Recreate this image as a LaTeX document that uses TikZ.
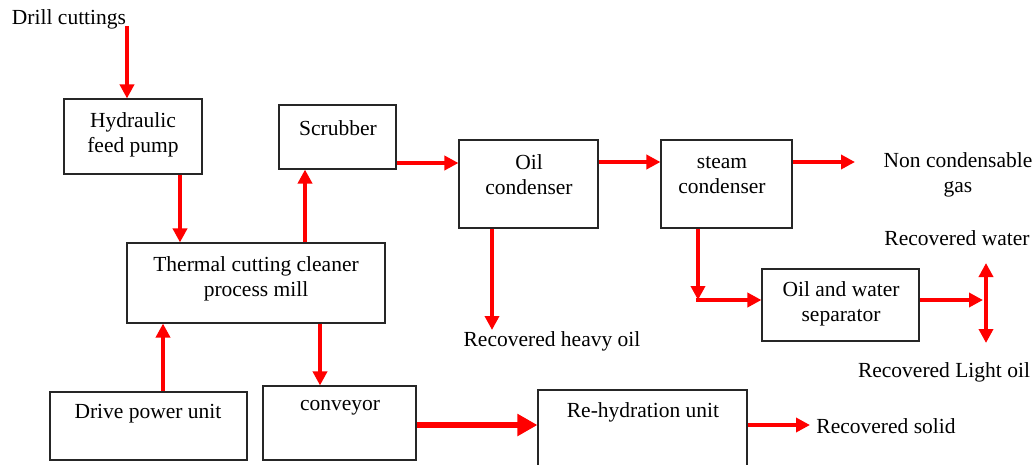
\documentclass[tikz,border=0pt]{standalone}
\usepackage{fontspec}
\setmainfont{Liberation Serif}
\usetikzlibrary{arrows.meta}
\begin{document}
\begin{tikzpicture}[x=1pt,y=-1pt,
  unit/.style={draw=black!85, line width=1.1pt, inner sep=0pt, fill=white},
  lbl/.style={font=\fontsize{21.5}{25}\selectfont, align=center, inner sep=0pt},
  flow/.style={draw=red, line width=4.2pt, -{Triangle[length=14pt,width=14pt]}},
  bothflow/.style={draw=red, line width=4.2pt, {Triangle[length=14pt,width=14pt]}-{Triangle[length=14pt,width=14pt]}},
  bigflow/.style={draw=red, line width=6.5pt, -{Triangle[length=20pt,width=21pt]}},
]
\useasboundingbox (0,0) rectangle (1035,464);
\clip (0,0) rectangle (1035,464);

% process units
\node[unit, minimum width=138pt, minimum height=75pt] (pump)  at (133,136.5) {};
\node[unit, minimum width=117pt, minimum height=64pt] (scrub) at (337.5,137) {};
\node[unit, minimum width=139pt, minimum height=88pt] (oilc)  at (528.5,184) {};
\node[unit, minimum width=131pt, minimum height=88pt] (steam) at (726.5,184) {};
\node[unit, minimum width=258pt, minimum height=80pt] (mill)  at (256,283) {};
\node[unit, minimum width=157pt, minimum height=72pt] (sep)   at (840.5,305) {};
\node[unit, minimum width=197pt, minimum height=68pt] (drive) at (148.5,426) {};
\node[unit, minimum width=153pt, minimum height=74pt] (conv)  at (339.5,423) {};
\node[unit, minimum width=209pt, minimum height=85pt] (rehyd) at (642.5,432.5) {};

% unit labels
\node[lbl] (tpump)  at (133,135)   {Hydraulic\\feed pump};
\node[lbl] (tscrub) at (338,128)   {Scrubber};
\node[lbl] (toilc)  at (529,175)   {Oil\\condenser};
\node[lbl] (tsteam) at (722,175)   {steam\\condenser};
\node[lbl] (tmill)  at (256,279)   {Thermal cutting cleaner\\process mill};
\node[lbl] (tsep)   at (841,304)   {Oil and water\\separator};
\node[lbl] (tdrive) at (148,414)   {Drive power unit};
\node[lbl] (tconv)  at (340,408)   {conveyor};
\node[lbl] (trehyd) at (643,412)   {Re-hydration unit};

% streams in and out
\node[lbl] (dc)   at (69,19)    {Drill cuttings};
\node[lbl] (ncg)  at (958,175)  {Non condensable\\gas};
\node[lbl] (rho)  at (552,341)  {Recovered heavy oil};
\node[lbl] (rw)   at (957,238)  {Recovered water};
\node[lbl] (rlo)  at (944,372)  {Recovered Light oil};
\node[lbl] (rs)   at (886,426)  {Recovered solid};

% connector positions
\coordinate (xdc)   at (127,0);
\coordinate (xpump) at (180,0);
\coordinate (xdrv)  at (163,0);
\coordinate (xscr)  at (305,0);
\coordinate (xconv) at (320,0);
\coordinate (xho)   at (492,0);
\coordinate (xst)   at (698,0);
\coordinate (ysc)   at (0,163);
\coordinate (ycd)   at (0,162);
\coordinate (ysol)  at (0,425);
\coordinate (ysep)  at (0,300);
\coordinate (ncgend) at (855,162);
\coordinate (hoend)  at (492,330);
\coordinate (rsend)  at (810,425);
\coordinate (bend)   at (698,300);
\coordinate (split)  at (983,300);
\coordinate (wtop)   at (986,263);
\coordinate (lbot)   at (986,343);

% material flows
\draw[flow] ([yshift=3pt]dc.south -| xdc) -- (pump.north -| xdc);
\draw[flow] (pump.south -| xpump) -- (mill.north -| xpump);
\draw[flow] (mill.north -| xscr) -- (scrub.south -| xscr);
\draw[flow] (scrub.east |- ysc) -- (oilc.west |- ysc);
\draw[flow] (oilc.east |- ycd) -- (steam.west |- ycd);
\draw[flow] (steam.east |- ycd) -- (ncgend);
\draw[flow] (oilc.south -| xho) -- (hoend);
\draw[flow] (steam.south -| xst) -- (bend);
\draw[flow] ([xshift=-2pt]bend) -- (sep.west |- ysep);
\draw[flow] (sep.east |- ysep) -- (split);
\draw[bothflow] (wtop) -- (lbot);
\draw[flow] (drive.north -| xdrv) -- (mill.south -| xdrv);
\draw[flow] (mill.south -| xconv) -- (conv.north -| xconv);
\draw[bigflow] (conv.east |- ysol) -- (rehyd.west |- ysol);
\draw[flow] (rehyd.east |- ysol) -- (rsend);
\end{tikzpicture}
\end{document}
